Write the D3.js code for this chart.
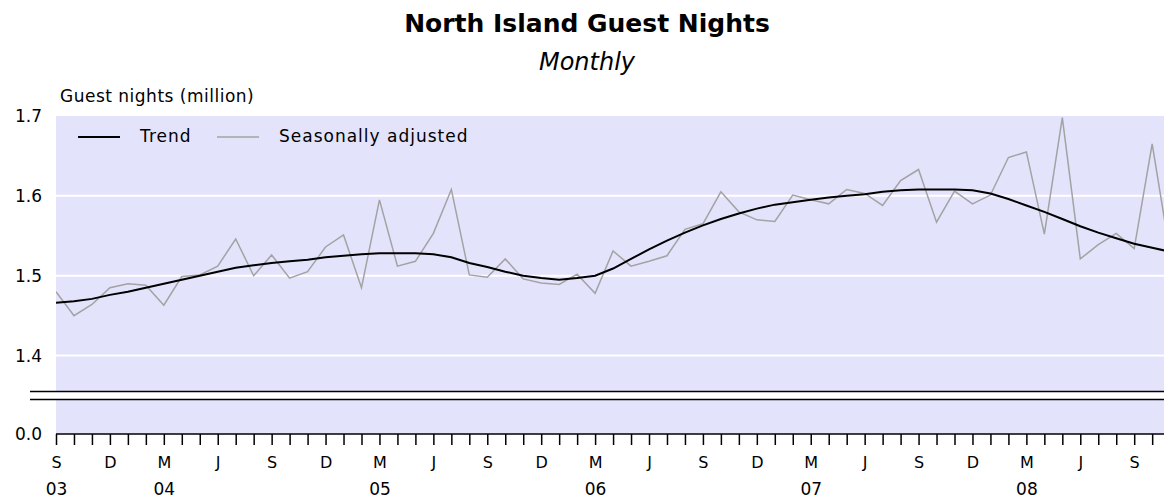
<!DOCTYPE html>
<html>
<head>
<meta charset="utf-8">
<script src="https://cdn.jsdelivr.net/npm/d3@7"></script>
<style>
  body{margin:0;background:#fff;overflow:hidden;}
  text{font-family:"DejaVu Sans",Verdana,sans-serif;fill:#000;}
</style>
</head>
<body>
<script>
// monthly series, Sep 2003 .. Nov 2008
var months=d3.utcMonth.range(new Date(Date.UTC(2003,8,1)),new Date(Date.UTC(2008,11,1))).map(d3.utcFormat("%Y-%m"))
var seasAdj=[1.480,1.450,1.464,1.485,1.490,1.488,1.463,1.499,1.501,1.512,1.546,1.500,1.526,1.497,1.505,1.536,1.551,1.485,1.595,1.512,
  1.518,1.553,1.608,1.501,1.498,1.521,1.496,1.491,1.489,1.502,1.478,1.531,1.512,1.518,1.525,1.558,1.565,1.605,1.580,1.570,
  1.568,1.601,1.595,1.590,1.608,1.603,1.588,1.619,1.633,1.567,1.606,1.590,1.601,1.648,1.655,1.552,1.698,1.521,1.539,1.553,
  1.534,1.665,1.527]
var trend=[1.466,1.468,1.471,1.476,1.480,1.485,1.490,1.495,1.500,1.505,1.510,1.513,1.516,1.518,1.520,1.523,1.525,1.527,1.528,1.528,
  1.528,1.527,1.523,1.516,1.511,1.505,1.500,1.497,1.495,1.497,1.500,1.509,1.521,1.533,1.544,1.554,1.563,1.571,1.578,1.584,
  1.589,1.592,1.595,1.598,1.600,1.602,1.605,1.607,1.608,1.608,1.608,1.607,1.603,1.596,1.588,1.580,1.571,1.562,1.554,1.547,
  1.540,1.535,1.530]
var yTicks=[1.4,1.5,1.6,1.7]
var monthNums=["09","12","03","06"]
var monthLetters=["S","D","M","J"]
var yearTicks=["2003-09","2004-03","2005-03","2006-03","2007-03","2008-03"]
var yearLabels=["03","04","05","06","07","08"]

var size={width:1164,height:498}
var plotLeft=56,plotTop=116,breakHi=391.5,breakLo=399.5,base=434

var svg=d3.select("body").append("svg")
  .attr("width",size.width)
  .attr("height",size.height)

var x=d3.scalePoint().domain(months).range([plotLeft,plotLeft+62*17.97])
var yTop=d3.scaleLinear().domain([1.355,1.7]).range([breakHi,plotTop])
var yBot=d3.scaleLinear().domain([0,0.04]).range([base,breakLo+0.5])

// plot background
svg.append("rect")
  .attr("x",plotLeft).attr("y",plotTop)
  .attr("width",size.width-plotLeft+20).attr("height",base-plotTop)
  .attr("fill","#e3e3fb")

// white grid lines
svg.selectAll("line.grid")
  .data(yTicks.slice(0,3))
  .enter()
  .append("line")
  .attr("class","grid")
  .attr("x1",plotLeft).attr("x2",size.width)
  .attr("y1",function(d){return yTop(d)})
  .attr("y2",function(d){return yTop(d)})
  .attr("stroke","#fff")
  .attr("stroke-width",2)

// axis break
svg.append("rect")
  .attr("x",plotLeft).attr("y",breakHi)
  .attr("width",size.width).attr("height",breakLo-breakHi)
  .attr("fill","#fff")
svg.selectAll("line.brk")
  .data([breakHi,breakLo])
  .enter()
  .append("line")
  .attr("class","brk")
  .attr("x1",30).attr("x2",size.width)
  .attr("y1",function(d){return d}).attr("y2",function(d){return d})
  .attr("stroke","#000")
  .attr("stroke-width",1.5)

// lines
svg.append("clipPath").attr("id","clip")
  .append("rect")
  .attr("x",plotLeft).attr("y",plotTop-2)
  .attr("width",size.width).attr("height",breakHi-plotTop)
var line=d3.line()
  .x(function(d,i){return x(months[i])})
  .y(function(d){return yTop(d)})
svg.append("path")
  .datum(seasAdj)
  .attr("d",line)
  .attr("fill","none")
  .attr("stroke","#a3a3a3")
  .attr("stroke-width",1.5)
  .attr("clip-path","url(#clip)")
svg.append("path")
  .datum(trend)
  .attr("d",line)
  .attr("fill","none")
  .attr("stroke","#000")
  .attr("stroke-width",2)
  .attr("clip-path","url(#clip)")

// y axis labels
var yAx=svg.append("g")
  .attr("transform","translate("+plotLeft+",0)")
  .call(d3.axisLeft(yTop).tickValues(yTicks).tickFormat(d3.format(".1f")).tickSize(0).tickPadding(14))
var yAx2=svg.append("g")
  .attr("transform","translate("+plotLeft+",0)")
  .call(d3.axisLeft(yBot).tickValues([0]).tickFormat(d3.format(".1f")).tickSize(0).tickPadding(14))
yAx.select(".domain").remove()
yAx2.select(".domain").remove()
yAx.selectAll("text").style("font-size","17px")
yAx2.selectAll("text").style("font-size","17px")

// x axis
var xAx=svg.append("g")
  .attr("transform","translate(0,"+base+")")
  .call(d3.axisBottom(x)
    .tickSizeInner(11).tickSizeOuter(0).tickPadding(12)
    .tickFormat(function(d){
      var k=monthNums.indexOf(d.slice(5))
      return k<0?"":monthLetters[k]
    }))
xAx.select(".domain").attr("d","M"+plotLeft+",0H"+size.width).attr("stroke-width",1.5)
xAx.selectAll(".tick line").attr("stroke-width",1.5)
xAx.selectAll("text").style("font-size","16px")
var xAx2=svg.append("g")
  .attr("transform","translate(0,"+base+")")
  .call(d3.axisBottom(x)
    .tickValues(yearTicks)
    .tickSize(0).tickPadding(49)
    .tickFormat(function(d){return yearLabels[yearTicks.indexOf(d)]}))
xAx2.select(".domain").remove()
xAx2.selectAll("text").style("font-size","17px")

// titles
svg.append("text")
  .attr("x",587).attr("y",32)
  .attr("text-anchor","middle")
  .style("font-size","25px").style("font-weight","bold")
  .text("North Island Guest Nights")
svg.append("text")
  .attr("x",587).attr("y",70)
  .attr("text-anchor","middle")
  .style("font-size","24px").style("font-style","italic")
  .text("Monthly")
svg.append("text")
  .attr("x",60).attr("y",102)
  .style("font-size","17px").style("letter-spacing","0.5px")
  .text("Guest nights (million)")

// legend
var legend=[{name:"Trend",color:"#000",w:2,x:78},{name:"Seasonally adjusted",color:"#a3a3a3",w:1.5,x:217}]
var lg=svg.selectAll("g.leg")
  .data(legend)
  .enter()
  .append("g")
  .attr("class","leg")
lg.append("line")
  .attr("x1",function(d){return d.x}).attr("x2",function(d){return d.x+42})
  .attr("y1",137).attr("y2",137)
  .attr("stroke",function(d){return d.color})
  .attr("stroke-width",function(d){return d.w})
lg.append("text")
  .attr("x",function(d){return d.x+62}).attr("y",142)
  .style("font-size","17px").style("letter-spacing","1px")
  .text(function(d){return d.name})
</script>
</body>
</html>
